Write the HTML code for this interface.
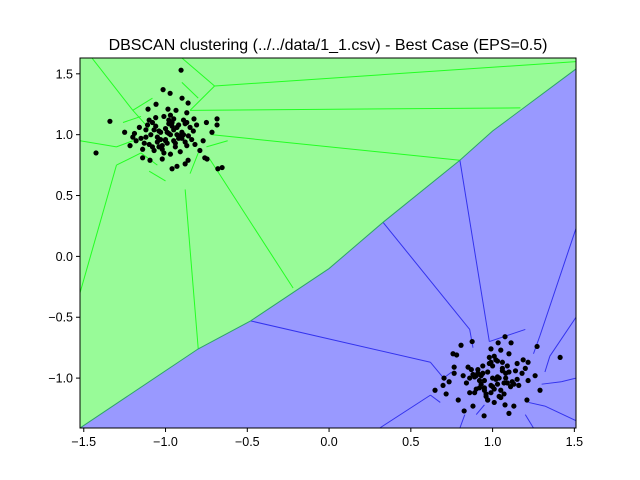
<!DOCTYPE html>
<html><head><meta charset="utf-8"><style>
body{margin:0;background:#fff;font-family:"Liberation Sans",sans-serif}
</style></head><body>
<svg id="c" width="640" height="480" xmlns="http://www.w3.org/2000/svg" style="display:block"></svg>
<script>
const xTicks=[-1.5,-1.0,-0.5,0.0,0.5,1.0,1.5];
const yTicks=[-1.0,-0.5,0.0,0.5,1.0,1.5];
const xTickLabels=["−1.5","−1.0","−0.5","0.0","0.5","1.0","1.5"];
const yTickLabels=["−1.0","−0.5","0.0","0.5","1.0","1.5"];
const boundaryX=[-1.523,-0.8,-0.48,0.0,0.33,0.8,1.0,1.51];
const boundaryY=[-1.41,-0.76,-0.53,-0.1,0.28,0.79,1.03,1.54];
const cluster1X=[-0.905,-1.015,-0.972,-0.899,-0.862,-1.058,-1.107,-1.34,-1.425,-0.685,-0.685,-0.75,-0.716,-0.77,-0.79,-0.746,-0.68,-0.654,-0.88,-0.93,-0.96,-1.095,-1.14,-1.25,-1.217,-1.19,-0.985,-0.936,-0.87,-0.81,-0.826,-0.862,-1.02,-0.76,
-0.97,-1.0,-0.95,-0.92,-1.05,-1.08,-1.1,-0.9,-0.88,-0.85,-1.02,-0.98,-0.94,-1.12,-1.15,-1.06,-0.99,-0.93,-0.96,-1.04,-1.01,-0.89,-0.91,-1.09,-1.13,-0.86,-0.97,-1.03,-0.95,-1.07,-0.92,-1.0,-0.98,-1.11,-0.87,-0.83,
-1.18,-1.16,-1.12,-1.08,-1.04,-1.0,-0.96,-0.92,-0.88,-0.84,-1.06,-1.02,-0.98,-0.94,-0.9,-1.1,-1.14,-0.97,-1.01,-0.93,-1.05,-0.89,-0.95,-0.99,-1.03,-1.07,-0.91,-0.87,-1.2,-0.82];
const cluster1Y=[1.53,1.37,1.34,1.30,1.26,1.25,1.21,1.11,0.85,1.13,1.08,1.10,1.02,0.95,0.87,0.80,0.72,0.73,0.76,0.74,0.72,0.79,0.81,1.02,0.91,1.01,1.21,1.20,1.18,1.08,1.13,0.79,0.80,0.81,
1.0,1.05,0.95,1.08,0.98,1.1,0.92,1.02,0.94,1.06,0.88,1.12,0.9,1.04,0.97,1.07,0.93,1.0,1.1,0.9,1.15,1.12,0.86,1.0,0.93,0.99,0.84,1.02,1.04,0.87,0.97,0.95,1.09,1.08,0.91,1.03,
0.95,1.06,0.98,0.9,1.03,0.96,1.07,0.99,1.09,0.96,1.14,0.91,1.01,0.93,0.97,1.12,0.88,1.16,0.85,1.06,0.94,1.0,1.13,1.02,0.96,1.04,0.99,1.1,0.98,0.92];
const cluster2X=[0.875,0.807,1.076,1.113,1.272,1.413,0.758,0.78,0.648,0.697,0.716,0.79,0.826,0.88,0.948,1.076,1.10,1.13,1.21,1.29,1.26,1.217,1.20,1.217,1.187,1.15,0.765,0.765,0.703,0.734,0.99,1.034,1.05,1.10,
1.0,0.97,1.03,0.95,1.06,0.92,1.08,0.99,0.94,1.02,1.05,0.9,1.1,0.96,1.01,0.93,1.07,0.98,0.88,1.12,1.04,0.91,1.0,0.95,1.09,0.86,1.03,0.97,1.14,0.89,1.06,0.94,1.01,0.99,
0.84,0.87,0.9,0.93,0.96,0.99,1.02,1.05,1.08,1.11,1.15,1.18,0.82,0.86,0.91,0.95,1.0,1.04,1.07,1.13,0.98,1.01,0.92,0.97,1.06,1.09,0.89,1.16,0.85,1.03];
const cluster2Y=[-0.70,-0.73,-0.66,-0.71,-0.74,-0.83,-0.80,-0.81,-1.10,-1.06,-1.13,-1.18,-1.27,-1.23,-1.31,-1.22,-1.29,-1.23,-1.18,-1.10,-0.98,-1.02,-0.92,-0.87,-0.85,-0.88,-0.91,-0.96,-1.00,-1.03,-0.76,-0.71,-0.77,-0.80,
-1.0,-0.95,-1.05,-1.02,-0.92,-1.08,-1.0,-1.12,-0.9,-0.85,-1.1,-0.98,-0.95,-1.15,-0.82,-1.05,-1.04,-0.88,-0.97,-1.03,-1.15,-0.93,-1.07,-1.1,-0.9,-1.0,-0.99,-1.18,-0.94,-1.12,-0.87,-0.96,-1.2,-1.06,
-1.04,-0.93,-1.09,-0.98,-1.13,-0.87,-1.01,-1.16,-0.96,-1.07,-1.01,-0.96,-0.98,-1.12,-0.96,-1.08,-0.9,-1.0,-1.13,-1.05,-0.83,-1.09,-1.02,-1.18,-0.94,-1.04,-0.99,-1.06,-0.91,-0.86];
const greenEdges=[[-1.523,-0.3,-1.3,0.75],[-1.523,0.95,-1.3,0.9],[-1.45,1.63,-1.2,1.2],[-0.9,1.63,-0.7,1.4],[-0.7,1.4,1.51,1.6],[-0.85,1.2,1.17,1.22],[-0.72,1.0,0.8,0.79],[-0.73,0.8,-0.22,-0.26],[-0.88,0.55,-0.8,-0.76],[-1.3,0.75,-1.15,0.85],[-1.2,1.2,-1.1,1.05],[-0.7,1.4,-0.85,1.2],
[-1.3,0.9,-1.2,0.95],[-1.15,0.85,-1.05,0.75],[-0.85,0.68,-0.8,0.85],[-1.1,0.7,-1.0,0.62],[-1.2,1.2,-1.08,1.3],[-0.9,1.43,-0.8,1.3],[-0.75,0.9,-0.62,0.95],[-1.26,1.1,-1.15,1.15]];
const blueEdges=[[0.8,0.79,0.98,-0.7],[0.33,0.28,0.86,-0.6],[-0.48,-0.53,0.62,-0.87],[1.51,0.23,1.29,-0.65],[1.51,-0.5,1.35,-0.82],[1.51,-1.0,1.42,-1.03],[1.51,-1.35,1.32,-1.23],[0.31,-1.41,0.62,-1.14],[0.8,-1.41,0.83,-1.3],[1.25,-1.41,1.2,-1.3],[0.98,-0.7,1.2,-0.6],[0.62,-0.87,0.7,-1.0],
[0.62,-1.14,0.68,-1.2],[0.86,-0.6,0.88,-0.75],[1.29,-0.65,1.25,-0.8],[1.35,-0.82,1.32,-0.95],[1.42,-1.03,1.3,-1.05],[1.32,-1.23,1.22,-1.2],[0.7,-1.0,0.75,-0.95],[0.9,-1.3,0.95,-1.22]];
const L=80,R=576,T=58,B=428,X0=-1.523,X1=1.51,Y0=-1.41,Y1=1.63;
const sx=v=>L+(v-X0)/(X1-X0)*(R-L), sy=v=>B-(v-Y0)/(Y1-Y0)*(B-T);
const svg=document.getElementById('c'), NS='http://www.w3.org/2000/svg';
function mk(t,a,p){const e=document.createElementNS(NS,t);for(const k in a)e.setAttribute(k,a[k]);(p||svg).appendChild(e);return e;}
const cp=mk('clipPath',{id:'pc'});mk('rect',{x:L,y:T,width:R-L,height:B-T},cp);
const g=mk('g',{'clip-path':'url(#pc)'});
let bpts=boundaryX.map((v,i)=>sx(v)+','+sy(boundaryY[i])).join(' ');
const gr=mk('polygon',{points:L+','+T+' '+bpts+' '+R+','+T,fill:'#98fb98'},g);


const bl=mk('polygon',{points:bpts+' '+R+','+B+' '+L+','+B,fill:'#9999ff'},g);


greenEdges.forEach(e=>{const l=mk('line',{x1:sx(e[0]),y1:sy(e[1]),x2:sx(e[2]),y2:sy(e[3]),stroke:'#22ff22','stroke-width':1},g);

});
blueEdges.forEach(e=>{const l=mk('line',{x1:sx(e[0]),y1:sy(e[1]),x2:sx(e[2]),y2:sy(e[3]),stroke:'#3333ee','stroke-width':1},g);

});
const bd=mk('polyline',{points:bpts,fill:'none',stroke:'#2ea36a','stroke-width':1},g);


[[cluster1X,cluster1Y],[cluster2X,cluster2Y]].forEach(([xs,ys])=>xs.forEach((v,i)=>{
const c=mk('circle',{cx:sx(v),cy:sy(ys[i]),r:2.6,fill:'#000'},g);

}));
const fr=mk('rect',{x:L,y:T,width:R-L,height:B-T,fill:'none',stroke:'#000','stroke-width':1});


xTicks.forEach((v,i)=>{mk('line',{x1:sx(v),y1:B,x2:sx(v),y2:B+4,stroke:'#000'});
const t=mk('text',{x:sx(v),y:B+18,'text-anchor':'middle','font-size':12.5});t.textContent=xTickLabels[i];

});
yTicks.forEach((v,i)=>{mk('line',{x1:L-4,y1:sy(v),x2:L,y2:sy(v),stroke:'#000'});
const t=mk('text',{x:L-7,y:sy(v)+4.5,'text-anchor':'end','font-size':12.5});t.textContent=yTickLabels[i];

});
const ti=mk('text',{x:328,y:50,'text-anchor':'middle','font-size':16});ti.textContent='DBSCAN clustering (../../data/1_1.csv) - Best Case (EPS=0.5)';


</script>
</body></html>
